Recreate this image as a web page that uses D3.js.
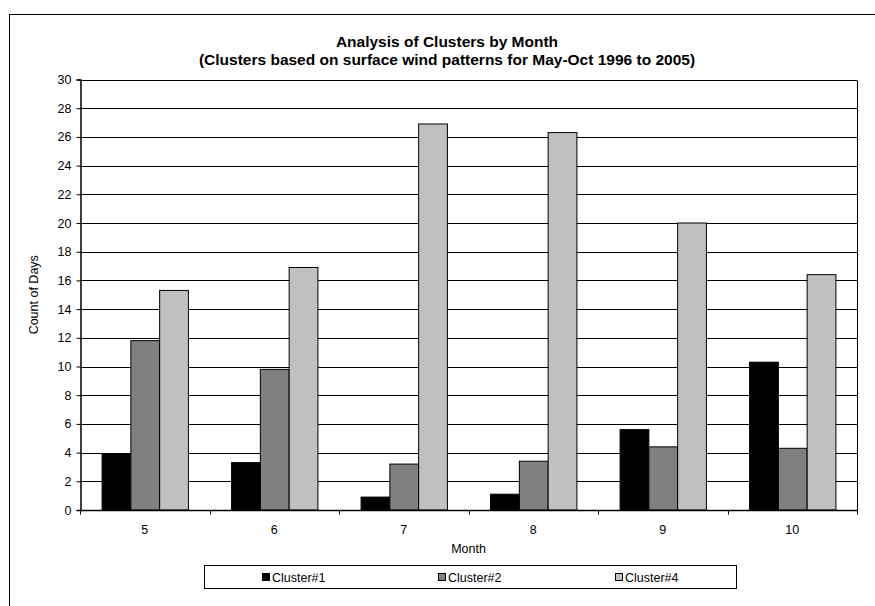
<!DOCTYPE html>
<html>
<head>
<meta charset="utf-8">
<script src="https://cdn.jsdelivr.net/npm/d3@7"></script>
<style>
  html, body { margin: 0; padding: 0; background: #fff; }
  svg { display: block; font-family: Arial, "Liberation Sans", sans-serif; }
</style>
</head>
<body>
<svg id="chart" width="875" height="606"></svg>
<script>
// Monthly cluster counts (days), May through October
const months = ["5", "6", "7", "8", "9", "10"];
const seriesNames = ["Cluster#1", "Cluster#2", "Cluster#4"];
const cluster1 = [3.9, 3.3, 0.9, 1.1, 5.6, 10.3];
const cluster2 = [11.8, 9.8, 3.2, 3.4, 4.4, 4.3];
const cluster4 = [15.3, 16.9, 26.9, 26.3, 20.0, 16.4];
const yTicks = [0, 2, 4, 6, 8, 10, 12, 14, 16, 18, 20, 22, 24, 26, 28, 30];
const seriesColors = ["#000000", "#808080", "#c0c0c0"];

const seriesValues = [cluster1, cluster2, cluster4];
const rows = months.map((m, i) => ({
  month: m,
  values: seriesNames.map((s, k) => ({ series: s, value: seriesValues[k][i] }))
}));

const svg = d3.select("#chart");
const plot = { left: 80, top: 79.5, right: 857, bottom: 510 };
const labelSize = 12.5;
const titleSize = 15.5;

// outer chart frame (runs off the right and bottom edges)
svg.append("rect")
  .attr("x", 9.5).attr("y", 14.5)
  .attr("width", 900).attr("height", 700)
  .attr("fill", "#fff").attr("stroke", "#000").attr("stroke-width", 1);

const x0 = d3.scaleBand().domain(months).range([plot.left, plot.right]).padding(0);
const bw = x0.bandwidth();
const gapEach = bw * (0.5 / 1.5) / 2; // 50% gap width between groups
const x1 = d3.scaleBand().domain(seriesNames).range([gapEach, bw - gapEach]).padding(0);
const y = d3.scaleLinear().domain([0, 30]).range([plot.bottom, plot.top]);
const color = d3.scaleOrdinal().domain(seriesNames).range(seriesColors);

// gridlines
svg.append("g")
  .selectAll("line")
  .data(yTicks.filter(t => t > 0))
  .join("line")
  .attr("x1", plot.left).attr("x2", plot.right)
  .attr("y1", d => Math.round(y(d)) + 0.5).attr("y2", d => Math.round(y(d)) + 0.5)
  .attr("stroke", "#000").attr("stroke-width", 1);

// plot area right border
svg.append("line")
  .attr("x1", plot.right + 0.5).attr("x2", plot.right + 0.5)
  .attr("y1", Math.round(plot.top) + 0.5).attr("y2", plot.bottom)
  .attr("stroke", "#000");

// bars
svg.append("g")
  .selectAll("g")
  .data(rows)
  .join("g")
  .attr("transform", d => `translate(${x0(d.month)},0)`)
  .selectAll("rect")
  .data(d => d.values)
  .join("rect")
  .attr("x", d => x1(d.series) + 0.5)
  .attr("y", d => y(d.value))
  .attr("width", x1.bandwidth())
  .attr("height", d => y(0) - y(d.value))
  .attr("fill", d => color(d.series))
  .attr("stroke", "#000").attr("stroke-width", 1);

// y axis
const yAxis = svg.append("g")
  .attr("transform", `translate(${plot.left + 0.5},0)`)
  .call(d3.axisLeft(y).tickValues(yTicks).tickSize(4).tickPadding(5).tickFormat(d3.format("d")));
yAxis.select(".domain").attr("stroke", "#000").attr("stroke-width", 1.5);
yAxis.selectAll("text").attr("font-size", labelSize).attr("fill", "#000")
  .attr("font-family", "Arial, 'Liberation Sans', sans-serif");

// x axis with ticks between categories
const xAxis = svg.append("g").attr("transform", `translate(0,${plot.bottom + 0.5})`);
xAxis.append("line")
  .attr("x1", plot.left).attr("x2", plot.right + 1)
  .attr("stroke", "#000").attr("stroke-width", 1.5);
xAxis.selectAll("line.tick")
  .data(months.map(m => x0(m)).concat([plot.right]))
  .join("line")
  .attr("class", "tick")
  .attr("x1", d => Math.round(d) + 0.5).attr("x2", d => Math.round(d) + 0.5)
  .attr("y1", 0).attr("y2", 4)
  .attr("stroke", "#000");
xAxis.selectAll("text")
  .data(months)
  .join("text")
  .attr("x", d => x0(d) + bw / 2)
  .attr("y", 23)
  .attr("text-anchor", "middle")
  .attr("font-size", labelSize)
  .text(d => d);

// axis titles
svg.append("text")
  .attr("x", (plot.left + plot.right) / 2).attr("y", 553)
  .attr("text-anchor", "middle").attr("font-size", labelSize)
  .text("Month");
svg.append("text")
  .attr("transform", `translate(38,${(plot.top + plot.bottom) / 2}) rotate(-90)`)
  .attr("text-anchor", "middle").attr("font-size", labelSize)
  .text("Count of Days");

// chart title
const title = svg.append("text")
  .attr("text-anchor", "middle").attr("font-size", titleSize).attr("font-weight", "bold");
title.append("tspan").attr("x", 447).attr("y", 47).text("Analysis of Clusters by Month");
title.append("tspan").attr("x", 447).attr("y", 65)
  .text("(Clusters based on surface wind patterns for May-Oct 1996 to 2005)");

// legend
const legend = svg.append("g");
legend.append("rect")
  .attr("x", 204.5).attr("y", 565.5).attr("width", 532).attr("height", 23)
  .attr("fill", "#fff").attr("stroke", "#000");
const legendX = [262, 438, 615];
const items = legend.selectAll("g.item")
  .data(seriesNames)
  .join("g")
  .attr("class", "item")
  .attr("transform", (d, i) => `translate(${legendX[i]},577)`);
items.append("rect")
  .attr("x", 0.5).attr("y", -3.5).attr("width", 7).attr("height", 7)
  .attr("fill", d => color(d)).attr("stroke", "#000");
items.append("text")
  .attr("x", 10).attr("y", 4.5)
  .attr("font-size", labelSize)
  .text(d => d);
</script>
</body>
</html>
